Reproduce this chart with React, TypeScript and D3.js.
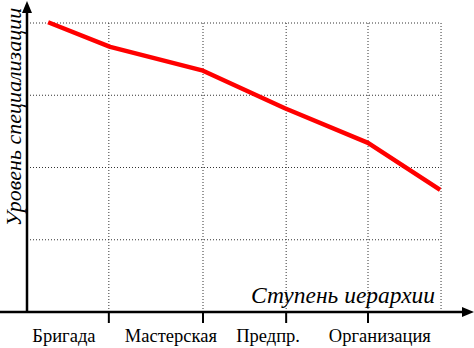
import * as d3 from 'd3';

// hierarchy steps (x in arbitrary position units, 0..100 along the axis)
const categories = ['Бригада', 'Мастерская', 'Предпр.', 'Организация'];
const categoryPos = [8.4, 32.7, 54.8, 80.2];
const gridX = [18.6, 40, 58.9, 77.5, 94.1];
const tickX = [18.6, 40, 58.9, 77.5];
const gridY = [1, 2, 3, 4];

// specialization level curve
const lineX = [4.8, 18.9, 40, 58.6, 77.5, 93.9];
const lineY = [4.01, 3.67, 3.34, 2.82, 2.34, 1.69];

const W = 474;
const H = 348;
const FONT = "'Liberation Serif'";

export default function App() {
  const originX = 27;
  const originY = 312;
  const x = d3.scaleLinear().domain([0, 100]).range([originX, 467]);
  const y = d3.scaleLinear().domain([0, 4]).range([originY, 23]);

  const pts = lineX.map((v, i) => [v, lineY[i]] as [number, number]);
  const line = d3.line<[number, number]>()
    .x(d => x(d[0]))
    .y(d => y(d[1]));

  const gridRight = x(d3.max(gridX) as number);

  return (
    <svg width={W} height={H} style={{ position: 'absolute', left: 0, top: 0 }}>
      {/* grid */}
      {gridY.map(v => (
        <line key={'gy' + v} x1={originX} x2={gridRight} y1={y(v)} y2={y(v)}
          stroke="#333" strokeWidth={1} strokeDasharray="1,2" />
      ))}
      {gridX.map(v => (
        <line key={'gx' + v} x1={x(v)} x2={x(v)} y1={y(4)} y2={originY}
          stroke="#333" strokeWidth={1} strokeDasharray="1,2" />
      ))}

      {/* data */}
      <path d={line(pts) ?? ''} fill="none" stroke="#ff0000" strokeWidth={4.5} strokeLinejoin="round" />

      {/* axes */}
      <line x1={0} x2={464} y1={originY} y2={originY} stroke="#000" strokeWidth={2.5} />
      <path d={`M474,${originY} L462,${originY - 5} L462,${originY + 5} Z`} fill="#000" />
      <line x1={originX} x2={originX} y1={originY} y2={12} stroke="#000" strokeWidth={2.5} />
      <path d={`M${originX},1 L${originX - 5},13 L${originX + 5},13 Z`} fill="#000" />

      {tickX.map(v => (
        <line key={'t' + v} x1={x(v)} x2={x(v)} y1={originY} y2={originY + 11} stroke="#000" strokeWidth={2} />
      ))}

      {categories.map((c, i) => (
        <text key={c} x={x(categoryPos[i])} y={342} textAnchor="middle"
          style={{ fontFamily: FONT, fontSize: 18.5 }} fill="#000">{c}</text>
      ))}

      <text x={343} y={303} textAnchor="middle"
        style={{ fontFamily: FONT, fontStyle: 'italic', fontSize: 23.5 }} fill="#000">Ступень иерархии</text>

      <text transform={`translate(21,${117}) rotate(-90)`} textAnchor="middle"
        style={{ fontFamily: FONT, fontStyle: 'italic', fontSize: 22 }} fill="#000">Уровень специализации</text>
    </svg>
  );
}
